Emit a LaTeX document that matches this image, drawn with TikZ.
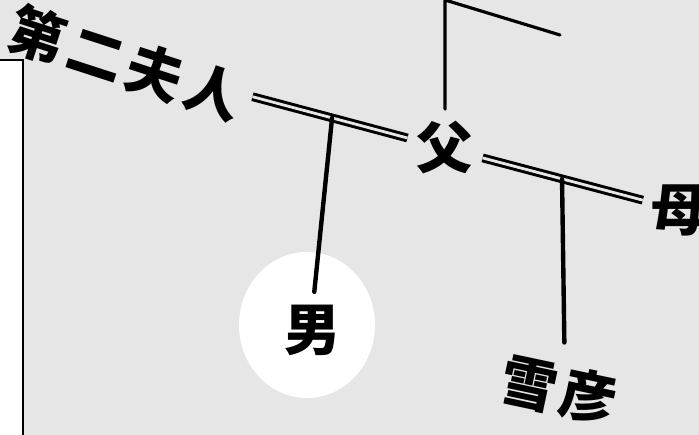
\documentclass[tikz,border=0pt]{standalone}
\usepackage{fontspec}
\newfontfamily\jpfont{Noto Sans CJK JP}
\usetikzlibrary{calc}
\definecolor{bggray}{HTML}{E6E6E6}

\begin{document}
\begin{tikzpicture}[x=0.02cm,y=-0.02cm,
    kanji/.style={font=\jpfont\bfseries\fontsize{32}{32}\selectfont, inner sep=0pt},
    marriage/.style={double=bggray, double distance=1.6pt, line width=1.7pt},
    descent/.style={line width=2.5pt, line cap=round}]
\useasboundingbox (0,0) rectangle (699,435);
\fill[bggray] (0,0) rectangle (699,435);
\clip (0,0) rectangle (699,435);
% Edge of the panel on the left
\fill[white] (0,60) rectangle (23,435);
\draw[line width=1.2pt] (0,60) -- (23,60) -- (23,440);
% Father and his two wives
\node[kanji, rotate=-18] (wife) at (126,63) {第\kern3pt二\kern3pt夫\kern3pt人};
\node[kanji, circle, minimum size=1.28cm] (father) at (445,148) {父};
\node[kanji, circle, minimum size=1.3cm] (mother) at (680,210) {母};
\draw[marriage, shorten <=0.2cm] (wife) -- (father);
\draw[marriage] (father) -- (mother);
% Up to the father's parents
\coordinate (top) at (443,0);
\coordinate (topright) at (560,35);
\draw[descent, line width=1.8pt] (father.north) -- (father.north |- top) -- (topright);
% Children
\fill[white] (307,325) ellipse [x radius=1.36cm, y radius=1.46cm];
\node[kanji] (son) at (313,330) {男};
\node[kanji, rotate=-12] (yukihiko) at (559,390) {雪\kern2pt彦};
\coordinate (c1) at ($(wife)!0.646!(father)$);
\coordinate (c2) at ($(father)!0.498!(mother)$);
\draw[descent, shorten >=0.25cm] (c1) -- (son.north);
\draw[descent, shorten >=0.42cm] (c2) -- (yukihiko.north);
\end{tikzpicture}
\end{document}
